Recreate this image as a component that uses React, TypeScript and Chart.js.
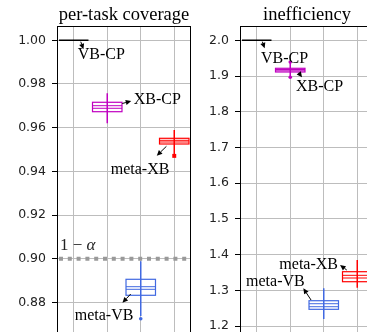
import React, { useEffect, useRef } from 'react';
import { Chart, registerables } from 'chart.js';
Chart.register(...registerables);

// ---- shared categories ----
const methods = ['VB-CP', 'XB-CP', 'meta-VB', 'meta-XB'];
const positions = [1, 2, 3, 4];
const colors = ['#000000', '#c000c0', '#4169e1', '#ff0000'];
const flierStyles = ['circle', 'circle', 'circle', 'rect'];

// ---- per-task coverage ----
const covWhiskerLow = [1.0, 0.962, 0.87382, 0.9478];
const covQ1 = [1.0, 0.96732, 0.8833, 0.95254];
const covMedian = [1.0, 0.96888, 0.88604, 0.95346];
const covMean = [1.0, 0.97007, 0.88723, 0.95423];
const covQ3 = [1.0, 0.97163, 0.89062, 0.95515];
const covWhiskerHigh = [1.0, 0.97574, 0.89886, 0.95895];
const covFliers = [[], [], [0.87259], [0.9471]];
const covTarget = 0.9;
const covTicks = { min: 0.8665, max: 1.00654, step: 0.02, decimals: 2 };
// annotation anchors (data coordinates): text, arrow tail, arrow head
const covTextX = [1.12, 2.791, 1.03, 2.104];
const covTextY = [0.99373, 0.97314, 0.8746, 0.94142];
const covTailX = [1.209, 2.448, 2.701, 3.767];
const covTailY = [0.99936, 0.97107, 0.88389, 0.95149];
const covHeadX = [1.29, 2.716, 2.454, 3.478];
const covHeadY = [0.99588, 0.97217, 0.87991, 0.94719];

// ---- inefficiency ----
const ineWhiskerLow = [2.0, 1.89639, 1.21955, 1.3072];
const ineQ1 = [2.0, 1.91123, 1.24671, 1.324];
const ineMedian = [2.0, 1.91459, 1.25399, 1.33436];
const ineMean = [2.0, 1.91823, 1.26239, 1.34192];
const ineQ3 = [2.0, 1.92159, 1.2708, 1.352];
const ineWhiskerHigh = [2.0, 1.93923, 1.30552, 1.38476];
const ineFliers = [[], [1.9392, 1.8964], [], []];
const ineTicks = { min: 1.1832, max: 2.04, step: 0.1, decimals: 1 };
const ineTextX = [1.128, 2.173, 0.681, 1.675];
const ineTextY = [1.95239, 1.87203, 1.3268, 1.37553];
const ineTailX = [1.167, 2.272, 2.621, 3.687];
const ineTailY = [1.99608, 1.90647, 1.27274, 1.35676];
const ineHeadX = [1.236, 2.352, 2.391, 3.487];
const ineHeadY = [1.9776, 1.89639, 1.3055, 1.37076];

const GRID = '#bdbdbd';
const SERIF = '"Liberation Serif", "Times New Roman", serif';

type Panel = {
  title: string;
  ticks: { min: number; max: number; step: number; decimals: number };
  wl: number[]; q1: number[]; med: number[]; mean: number[]; q3: number[]; wh: number[];
  fliers: number[][];
  target?: number;
  tx: number[]; ty: number[]; ax: number[]; ay: number[]; hx: number[]; hy: number[];
};

const panels: Panel[] = [
  {
    title: 'per-task coverage', ticks: covTicks,
    wl: covWhiskerLow, q1: covQ1, med: covMedian, mean: covMean, q3: covQ3, wh: covWhiskerHigh,
    fliers: covFliers, target: covTarget,
    tx: covTextX, ty: covTextY, ax: covTailX, ay: covTailY, hx: covHeadX, hy: covHeadY,
  },
  {
    title: 'inefficiency', ticks: ineTicks,
    wl: ineWhiskerLow, q1: ineQ1, med: ineMedian, mean: ineMean, q3: ineQ3, wh: ineWhiskerHigh,
    fliers: ineFliers,
    tx: ineTextX, ty: ineTextY, ax: ineTailX, ay: ineTailY, hx: ineHeadX, hy: ineHeadY,
  },
];

const BOX_HALF = 0.44;

function drawArrow(ctx: CanvasRenderingContext2D, x1: number, y1: number, x2: number, y2: number) {
  const ang = Math.atan2(y2 - y1, x2 - x1);
  const hl = 5.5, hw = 2.6;
  const bx = x2 - hl * Math.cos(ang), by = y2 - hl * Math.sin(ang);
  ctx.save();
  ctx.strokeStyle = '#000';
  ctx.fillStyle = '#000';
  ctx.lineWidth = 1;
  ctx.beginPath();
  ctx.moveTo(x1, y1);
  ctx.lineTo(bx, by);
  ctx.stroke();
  ctx.beginPath();
  ctx.moveTo(x2, y2);
  ctx.lineTo(bx + hw * Math.sin(ang), by - hw * Math.cos(ang));
  ctx.lineTo(bx - hw * Math.sin(ang), by + hw * Math.cos(ang));
  ctx.closePath();
  ctx.fill();
  ctx.restore();
}

function boxPlugin(p: Panel) {
  return {
    id: 'boxes',
    beforeDatasetsDraw(chart: any) {
      const ctx: CanvasRenderingContext2D = chart.ctx;
      const xs = chart.scales.x, ys = chart.scales.y;
      const area = chart.chartArea;
      ctx.save();
      if (p.target !== undefined) {
        const y = ys.getPixelForValue(p.target);
        ctx.strokeStyle = '#999999';
        ctx.lineWidth = 4;
        ctx.setLineDash([4, 4.8]);
        ctx.beginPath();
        ctx.moveTo(area.left + 2, y);
        ctx.lineTo(area.right, y);
        ctx.stroke();
        ctx.setLineDash([]);
      }
      positions.forEach((pos, i) => {
        const c = colors[i];
        const xc = xs.getPixelForValue(pos);
        const xl = xs.getPixelForValue(pos - BOX_HALF);
        const xr = xs.getPixelForValue(pos + BOX_HALF);
        const yq1 = ys.getPixelForValue(p.q1[i]);
        const yq3 = ys.getPixelForValue(p.q3[i]);
        ctx.strokeStyle = c;
        if (p.wh[i] !== p.wl[i]) {
          ctx.lineWidth = 1.5;
          ctx.beginPath();
          ctx.moveTo(xc, ys.getPixelForValue(p.wh[i]));
          ctx.lineTo(xc, ys.getPixelForValue(p.wl[i]));
          ctx.stroke();
        }
        ctx.lineWidth = p.q1[i] === p.q3[i] ? 1.5 : 1.2;
        ctx.strokeRect(xl, yq3, xr - xl, yq1 - yq3);
        if (p.q1[i] !== p.q3[i]) {
          ctx.lineWidth = 1;
          [p.med[i], p.mean[i]].forEach((v) => {
            const y = ys.getPixelForValue(v);
            ctx.beginPath();
            ctx.moveTo(xl, y);
            ctx.lineTo(xr, y);
            ctx.stroke();
          });
        }
      });
      ctx.restore();
    },
    afterDatasetsDraw(chart: any) {
      const ctx: CanvasRenderingContext2D = chart.ctx;
      const xs = chart.scales.x, ys = chart.scales.y;
      const area = chart.chartArea;
      ctx.save();
      // annotations
      ctx.fillStyle = '#000';
      ctx.font = `16px ${SERIF}`;
      ctx.textAlign = 'left';
      ctx.textBaseline = 'alphabetic';
      methods.forEach((m, i) => {
        ctx.fillText(m, xs.getPixelForValue(p.tx[i]), ys.getPixelForValue(p.ty[i]) + 5.3);
        drawArrow(ctx,
          xs.getPixelForValue(p.ax[i]), ys.getPixelForValue(p.ay[i]),
          xs.getPixelForValue(p.hx[i]), ys.getPixelForValue(p.hy[i]));
      });
      if (p.target !== undefined) {
        const x0 = area.left + 3;
        const yb = ys.getPixelForValue(p.target) - 8.5;
        ctx.fillStyle = '#222';
        ctx.font = `17px ${SERIF}`;
        const s = '1 \u2212 ';
        ctx.fillText(s, x0, yb);
        const w = ctx.measureText(s).width;
        ctx.font = `italic 17px ${SERIF}`;
        ctx.fillText('\u03b1', x0 + w, yb);
      }
      // spines
      ctx.strokeStyle = '#000';
      ctx.lineWidth = 1;
      ctx.beginPath();
      ctx.moveTo(area.left, area.top + 0.5);
      ctx.lineTo(area.right, area.top + 0.5);
      ctx.moveTo(area.right - 0.5, area.top);
      ctx.lineTo(area.right - 0.5, area.bottom);
      ctx.stroke();
      // title
      ctx.fillStyle = '#000';
      ctx.font = `18.5px ${SERIF}`;
      ctx.textAlign = 'center';
      ctx.fillText(p.title, (area.left + area.right) / 2, 19.5);
      ctx.restore();
    },
  };
}

function buildChart(canvas: HTMLCanvasElement, p: Panel) {
  const pts: { x: number; y: number }[] = [];
  const pc: string[] = [];
  const ps: string[] = [];
  const pr: number[] = [];
  p.fliers.forEach((arr, i) => {
    arr.forEach((v) => {
      pts.push({ x: positions[i], y: v });
      pc.push(colors[i]);
      ps.push(flierStyles[i]);
      pr.push(flierStyles[i] === 'rect' ? 2.8 : 1.8);
    });
  });
  return new Chart(canvas, {
    type: 'scatter',
    data: {
      datasets: [
        {
          data: pts,
          pointBackgroundColor: pc,
          pointBorderColor: pc,
          pointStyle: ps as any,
          pointRadius: pr,
          pointBorderWidth: 0,
        },
      ],
    },
    options: {
      responsive: false,
      animation: false,
      devicePixelRatio: 1,
      layout: { autoPadding: false, padding: { top: 26, right: 0, left: 0, bottom: 0 } },
      plugins: { legend: { display: false }, tooltip: { enabled: false }, title: { display: false } },
      scales: {
        x: {
          type: 'linear',
          min: 0.5,
          max: 4.5,
          afterBuildTicks: (s: any) => {
            s.ticks = positions.map((v) => ({ value: v }));
          },
          afterFit: (s: any) => {
            s.height = 0;
            s.paddingLeft = 0;
            s.paddingRight = 0;
            s.paddingTop = 0;
            s.paddingBottom = 0;
          },
          ticks: { display: false },
          grid: { color: GRID, lineWidth: 1, drawTicks: false },
          border: { display: false },
        },
        y: {
          type: 'linear',
          min: p.ticks.min,
          max: p.ticks.max,
          afterFit: (s: any) => {
            s.width = 57;
            s.paddingTop = 0;
            s.paddingBottom = 0;
          },
          ticks: {
            stepSize: p.ticks.step,
            includeBounds: false,
            callback: (v: any) => Number(v).toFixed(p.ticks.decimals),
            font: { family: '"DejaVu Sans", sans-serif', size: 12.5 },
            color: '#222',
            padding: 6,
          },
          grid: { color: GRID, lineWidth: 1, tickLength: 5, tickColor: '#000', tickWidth: 1 },
          border: { display: true, color: '#000', width: 1 },
        },
      },
    },
    plugins: [boxPlugin(p)],
  } as any);
}

export default function App() {
  const leftRef = useRef<HTMLCanvasElement>(null);
  const rightRef = useRef<HTMLCanvasElement>(null);
  useEffect(() => {
    const a = buildChart(leftRef.current!, panels[0]);
    const b = buildChart(rightRef.current!, panels[1]);
    return () => {
      a.destroy();
      b.destroy();
    };
  }, []);
  return (
    <div
      style={{
        position: 'fixed',
        left: 0,
        top: 0,
        width: 367,
        height: 332,
        overflow: 'hidden',
        background: '#fff',
      }}
    >
      <canvas ref={leftRef} width={191} height={332} style={{ position: 'absolute', left: 0, top: 0, display: 'block' }} />
      <canvas ref={rightRef} width={191} height={332} style={{ position: 'absolute', left: 183, top: 0, display: 'block' }} />
    </div>
  );
}
